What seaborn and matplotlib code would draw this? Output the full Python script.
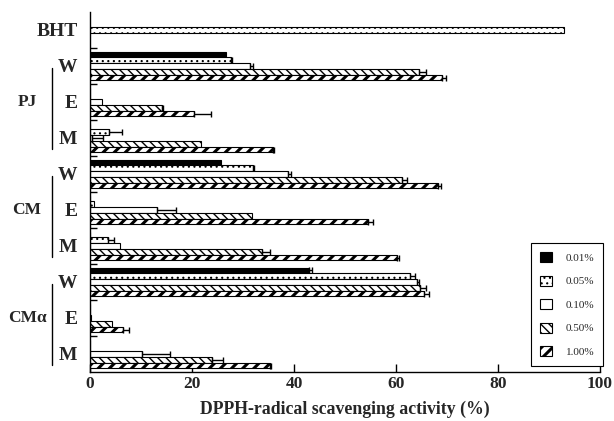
import matplotlib
matplotlib.use("Agg")
import matplotlib.pyplot as plt
from matplotlib.patches import Patch
from matplotlib import transforms
import seaborn as sns
import pandas as pd

# ---------------- data ----------------
samples = ["BHT", "PJ-W", "PJ-E", "PJ-M", "CM-W", "CM-E", "CM-M",
           "CMα-W", "CMα-E", "CMα-M"]
tick_labels = ["BHT", "W", "E", "M", "W", "E", "M", "W", "E", "M"]
group_names = ["PJ", "CM", "CMα"]
concs = ["0.01%", "0.05%", "0.10%", "0.50%", "1.00%"]

extract_samples = samples[1:]
v001 = [26.7, 0.0, 0.0, 25.6, 0.0, 0.0, 43.0, 0.0, 0.0]
v005 = [27.6, 0.0, 3.7, 31.9, 0.8, 3.6, 62.7, 0.0, 0.0]
v010 = [31.4, 2.3, 0.3, 38.8, 13.1, 5.9, 64.2, 0.2, 10.1]
v050 = [64.5, 14.1, 21.7, 61.1, 31.7, 33.7, 64.8, 4.4, 24.0]
v100 = [69.0, 20.4, 35.8, 68.3, 54.5, 60.1, 65.4, 6.4, 35.3]

e001 = [0.0, 0.0, 0.0, 0.0, 0.0, 0.0, 0.5, 0.0, 0.0]
e005 = [0.3, 0.0, 2.6, 0.3, 0.0, 1.2, 1.0, 0.0, 0.0]
e010 = [0.6, 0.0, 2.2, 0.7, 3.8, 0.0, 0.4, 0.0, 5.5]
e050 = [1.3, 0.3, 0.0, 1.0, 0.0, 1.6, 1.0, 0.0, 2.0]
e100 = [0.8, 3.3, 0.3, 0.5, 1.0, 0.5, 1.0, 1.2, 0.2]

bht_value = 93.0

values = [v001, v005, v010, v050, v100]
errors = [e001, e005, e010, e050, e100]

rows = []
for c, vals, errs in zip(concs, values, errors):
    for s, v, e in zip(extract_samples, vals, errs):
        rows.append({"sample": s, "conc": c, "value": v, "err": e})
df = pd.DataFrame(rows)
err_lookup = {(r["sample"], r["conc"]): r["err"] for _, r in df.iterrows()}

# ---------------- styles ----------------
palette = {"0.01%": "black", "0.05%": "white", "0.10%": "white",
           "0.50%": "white", "1.00%": "white"}
hatches = {"0.01%": "", "0.05%": "...", "0.10%": "",
           "0.50%": "\\\\\\\\", "1.00%": "///"}
hatch_lw = {"0.01%": 0.8, "0.05%": 0.8, "0.10%": 0.8, "0.50%": 1.0,
            "1.00%": 2.2}

sns.set_theme(style="white")
plt.rcParams["font.family"] = ["Liberation Serif", "DejaVu Serif"]
plt.rcParams["hatch.color"] = "black"


def set_hlw(p, lw):
    try:
        p.set_hatch_linewidth(lw)
    except AttributeError:
        p._hatch_linewidth = lw
    orig = p.draw

    def draw(renderer, _orig=orig, _lw=lw):
        with matplotlib.rc_context({"hatch.linewidth": _lw}):
            _orig(renderer)
    p.draw = draw


fig = plt.figure(figsize=(6.14, 4.21), dpi=100)
ax = fig.add_axes([90 / 614, 1 - 372 / 421, 510 / 614, 360 / 421])

sns.barplot(data=df, x="value", y="sample", hue="conc", order=samples,
            hue_order=concs, orient="h", errorbar=None, palette=palette,
            saturation=1, edgecolor="black", linewidth=0.8, width=0.8,
            legend=False, ax=ax)

main_containers = list(ax.containers)
ex, ey, ee = [], [], []
for j, cont in enumerate(main_containers):
    c = concs[j]
    for bar in cont:
        bar.set_hatch(hatches[c])
        set_hlw(bar, hatch_lw[c])
        yc = bar.get_y() + bar.get_height() / 2
        idx = int(round(yc))
        e = err_lookup.get((samples[idx], c), 0.0)
        if e > 0:
            ex.append(bar.get_width())
            ey.append(yc)
            ee.append(e)

# BHT reference bar (single bar at the centre of its slot)
sns.barplot(x=[bht_value], y=["BHT"], order=samples, orient="h",
            width=0.16, color="white", saturation=1, edgecolor="black",
            linewidth=0.8, ax=ax)
for bar in ax.containers[-1]:
    bar.set_hatch(hatches["0.05%"])
    set_hlw(bar, hatch_lw["0.05%"])

ax.errorbar(ex, ey, xerr=[[0] * len(ee), ee], fmt="none", ecolor="black",
            elinewidth=1.0, capsize=2.5, capthick=1.0, zorder=5)

# ---------------- axes ----------------
ax.set_xlim(0, 100)
ax.set_ylim(9.5, -0.5)
ax.set_xticks([0, 20, 40, 60, 80, 100])
ax.set_xticklabels(["0", "20", "40", "60", "80", "100"],
                   fontweight="bold", fontsize=12.5)
ax.set_yticks(range(len(samples)))
ax.set_yticklabels(tick_labels, fontweight="bold", fontsize=14)
ax.set_yticks([i + 0.5 for i in range(len(samples) - 1)], minor=True)
ax.tick_params(axis="y", which="major", length=0, pad=9)
ax.tick_params(axis="y", which="minor", direction="in", length=5,
               width=1, color="black", left=True)
ax.tick_params(axis="x", which="major", direction="in", length=6, width=1,
               color="black", pad=3, bottom=True)
ax.set_xlabel("DPPH-radical scavenging activity (%)", fontweight="bold",
              fontsize=12.8, labelpad=6)
ax.set_ylabel("")
for side in ["top", "right"]:
    ax.spines[side].set_visible(False)
for side in ["left", "bottom"]:
    ax.spines[side].set_color("black")
    ax.spines[side].set_linewidth(1.0)

# group labels with vertical brackets
trans = transforms.blended_transform_factory(fig.transFigure, ax.transData)
for g, name in enumerate(group_names):
    first = 1 + 3 * g
    ax.text(27 / 614, first + 1, name, transform=trans, ha="center",
            va="center", fontweight="bold", fontsize=12.5, clip_on=False)
    ax.plot([52 / 614, 52 / 614], [first + 0.05, first + 2.3],
            transform=trans, color="black", lw=1.0, clip_on=False)

# legend
handles = []
for c in concs:
    p = Patch(facecolor=palette[c], edgecolor="black", hatch=hatches[c],
              linewidth=0.8, label=c)
    handles.append(p)
leg = ax.legend(handles=handles, loc="upper left",
                bbox_to_anchor=(0.865, 0.358), borderaxespad=0,
                fontsize=8, handlelength=1.1, handleheight=1.0,
                labelspacing=1.15, handletextpad=1.2, borderpad=0.8,
                fancybox=False, framealpha=1, edgecolor="black")
leg.get_frame().set_linewidth(0.8)
for lp, c in zip(leg.get_patches(), concs):
    set_hlw(lp, hatch_lw[c])

fig.savefig("out.png", dpi=100)
